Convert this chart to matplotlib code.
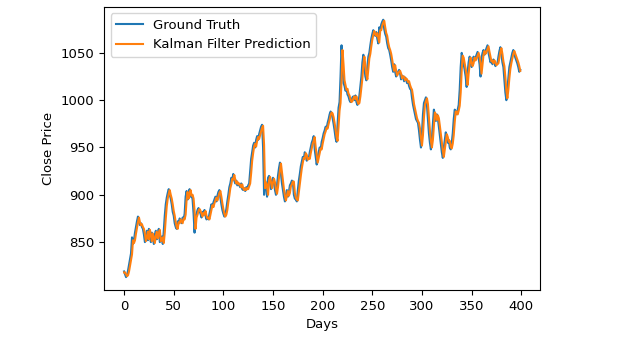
import numpy as np
import matplotlib
matplotlib.use("Agg")
import matplotlib.pyplot as plt

plt.rcParams["font.size"] = 9.5

# closing prices, one per day
ground_truth = [
    819, 816, 813, 815, 820, 826, 832, 838, 855, 848,
    852, 860, 866, 872, 877, 871, 868, 870, 866, 864,
    858, 850, 856, 862, 852, 864, 858, 850, 860, 854,
    848, 858, 862, 853, 860, 864, 850, 852, 856, 848,
    862, 878, 890, 897, 902, 906, 900, 896, 890, 882,
    878, 870, 866, 864, 872, 870, 875, 872, 870, 876,
    874, 880, 898, 904, 895, 902, 906, 898, 900, 895,
    880, 860, 878, 880, 884, 886, 883, 880, 876, 882,
    879, 884, 878, 874, 876, 874, 880, 885, 890, 887,
    892, 895, 898, 893, 899, 903, 905, 897, 890, 884,
    880, 877, 879, 885, 893, 900, 908, 912, 918, 916,
    922, 915, 912, 915, 910, 912, 910, 908, 912, 906,
    905, 907, 904, 908, 906, 910, 912, 925, 938, 945,
    952, 955, 950, 958, 962, 958, 964, 968, 972, 974,
    950, 900, 915, 910, 898, 918, 920, 912, 906, 915,
    918, 912, 905, 900, 910, 920, 928, 934, 922, 912,
    905, 898, 893, 900, 905, 898, 903, 910, 912, 915,
    914, 900, 896, 895, 893, 905, 915, 922, 930, 935,
    940, 938, 945, 942, 936, 940, 938, 945, 950, 955,
    958, 962, 948, 940, 932, 940, 945, 950, 948, 956,
    960, 965, 968, 972, 970, 976, 980, 985, 988, 986,
    981, 975, 968, 960, 956, 975, 992, 998, 1025, 1058,
    1035, 1018, 1015, 1010, 1012, 1006, 1004, 1000, 998, 1000,
    1003, 1004, 1000, 1005, 998, 995, 997, 1005, 1015, 1025,
    1040, 1048, 1035, 1025, 1021, 1035, 1046, 1050, 1058, 1065,
    1070, 1074, 1070, 1068, 1072, 1065, 1060, 1077, 1074, 1080,
    1083, 1085, 1075, 1070, 1067, 1060, 1055, 1053, 1048, 1042,
    1035, 1030, 1038, 1030, 1025, 1028, 1030, 1032, 1028, 1022,
    1026, 1025, 1020, 1024, 1022, 1018, 1020, 1015, 1012, 1011,
    1002, 995, 990, 985, 980, 978, 976, 968, 958, 950,
    965, 985, 997, 1000, 1003, 995, 980, 965, 955, 948,
    960, 975, 990, 985, 978, 985, 981, 972, 962, 955,
    945, 939, 950, 958, 966, 960, 955, 958, 950, 948,
    955, 965, 980, 990, 988, 985, 990, 995, 1011, 1035,
    1050, 1045, 1038, 1032, 1025, 1014, 1030, 1040, 1046, 1040,
    1035, 1040, 1046, 1042, 1045, 1048, 1051, 1045, 1038, 1025,
    1045, 1050, 1053, 1048, 1052, 1055, 1058, 1050, 1045, 1040,
    1042, 1038, 1043, 1040, 1036, 1038, 1039, 1046, 1052, 1056,
    1048, 1040, 1035, 1022, 1008, 1000, 1012, 1025, 1035, 1040,
    1045, 1050, 1053, 1048, 1045, 1042, 1039, 1035, 1030, 1032,
]

kalman_prediction = [
    818, 818, 816, 814, 815, 819, 825, 831, 837, 852,
    849, 852, 859, 865, 871, 876, 871, 868, 869, 866,
    864, 859, 851, 855, 861, 853, 863, 858, 851, 859,
    854, 849, 857, 861, 854, 859, 863, 851, 852, 855,
    849, 860, 875, 888, 896, 901, 905, 900, 896, 890,
    883, 878, 871, 866, 864, 871, 870, 874, 872, 870,
    875, 874, 879, 895, 903, 896, 901, 905, 899, 900,
    896, 883, 864, 876, 879, 883, 885, 883, 880, 877,
    881, 879, 883, 878, 875, 876, 874, 879, 884, 889,
    887, 891, 894, 897, 894, 898, 902, 904, 898, 891,
    885, 880, 877, 879, 884, 892, 899, 907, 911, 917,
    916, 921, 916, 912, 914, 911, 912, 910, 908, 911,
    907, 905, 907, 905, 907, 906, 909, 912, 923, 936,
    944, 951, 954, 951, 957, 961, 959, 963, 967, 971,
    973, 953, 907, 913, 910, 900, 915, 919, 913, 907,
    913, 917, 913, 906, 901, 908, 918, 926, 933, 924,
    914, 906, 899, 894, 899, 904, 899, 902, 909, 911,
    914, 914, 902, 897, 895, 894, 903, 913, 920, 928,
    934, 939, 938, 944, 942, 937, 939, 938, 944, 949,
    954, 957, 961, 950, 942, 934, 939, 944, 949, 948,
    954, 959, 964, 967, 971, 970, 975, 979, 984, 987,
    986, 982, 976, 969, 961, 957, 972, 989, 997, 1021,
    1053, 1038, 1021, 1016, 1011, 1012, 1007, 1005, 1001, 998,
    999, 1002, 1004, 1001, 1004, 999, 996, 997, 1004, 1013,
    1023, 1037, 1046, 1037, 1027, 1022, 1033, 1044, 1049, 1057,
    1064, 1069, 1073, 1070, 1068, 1071, 1066, 1061, 1074, 1074,
    1079, 1082, 1084, 1077, 1071, 1068, 1061, 1056, 1053, 1049,
    1043, 1036, 1031, 1037, 1031, 1026, 1028, 1030, 1031, 1028,
    1023, 1025, 1025, 1021, 1023, 1022, 1019, 1020, 1016, 1013,
    1011, 1004, 996, 991, 986, 981, 978, 976, 970, 960,
    952, 963, 982, 995, 999, 1002, 996, 982, 968, 957,
    950, 958, 972, 987, 985, 979, 984, 981, 973, 964,
    956, 947, 940, 948, 956, 964, 961, 956, 957, 951,
    949, 954, 963, 977, 988, 988, 985, 989, 994, 1008,
    1031, 1047, 1045, 1039, 1033, 1026, 1016, 1028, 1038, 1045,
    1040, 1036, 1039, 1045, 1042, 1044, 1047, 1050, 1046, 1039,
    1028, 1038, 1048, 1052, 1049, 1051, 1054, 1057, 1051, 1046,
    1041, 1042, 1039, 1042, 1040, 1037, 1038, 1039, 1045, 1051,
    1055, 1049, 1041, 1036, 1024, 1010, 1002, 1011, 1023, 1033,
    1039, 1044, 1049, 1052, 1049, 1046, 1043, 1040, 1036, 1031,
]

days = np.arange(len(ground_truth))

fig = plt.figure(figsize=(6.28, 3.44), dpi=100)
ax = fig.add_axes([0.166, 0.157, 0.694, 0.823])

ax.plot(days, ground_truth, color="tab:blue", lw=1.5, label="Ground Truth")
ax.plot(days, kalman_prediction, color="tab:orange", lw=1.5, label="Kalman Filter Prediction")

ax.set_xlabel("Days")
ax.set_ylabel("Close Price")
ax.set_xticks([0, 50, 100, 150, 200, 250, 300, 350, 400])
ax.set_yticks([850, 900, 950, 1000, 1050])
ax.legend(loc="upper left")

fig.savefig("out.png", dpi=100)
